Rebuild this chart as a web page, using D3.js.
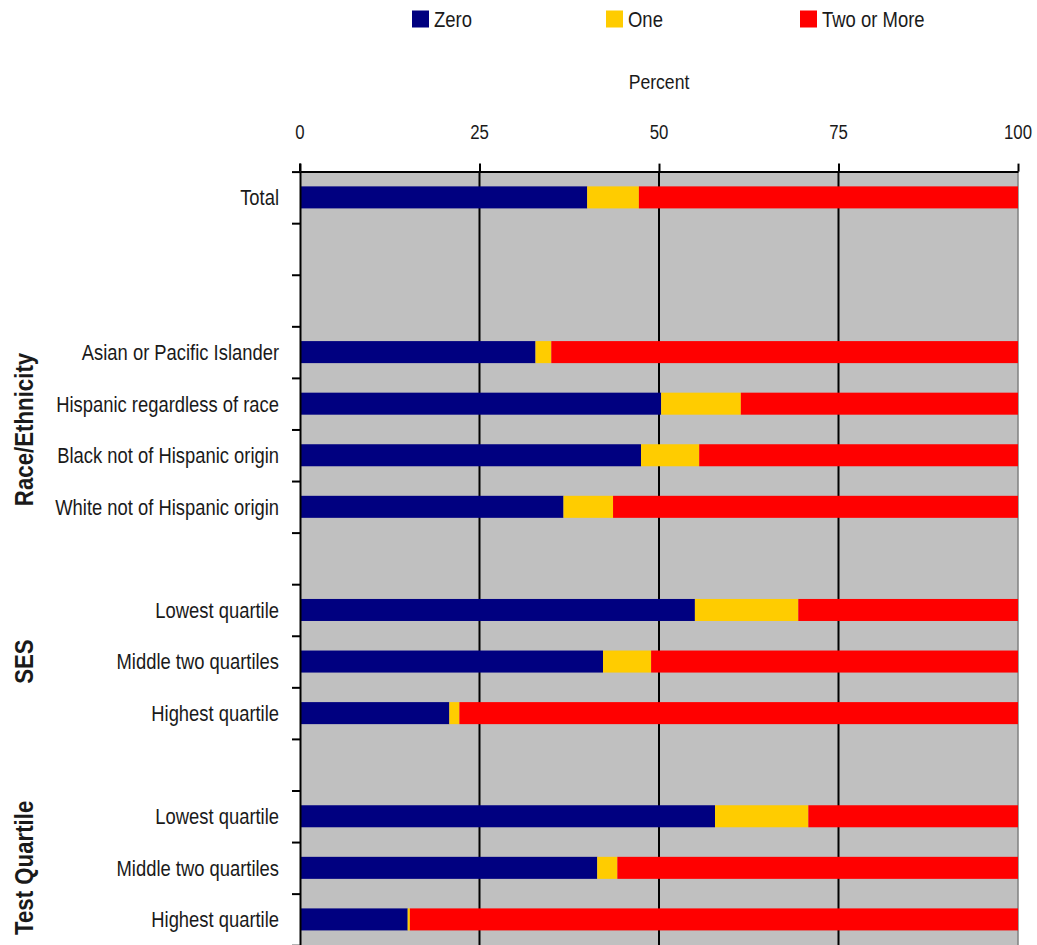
<!DOCTYPE html>
<html>
<head>
<meta charset="utf-8">
<script src="https://cdn.jsdelivr.net/npm/d3@7/dist/d3.min.js"></script>
<style>
  html, body { margin: 0; padding: 0; background: #fff; }
  svg { display: block; }
  text { font-family: "Liberation Sans", Arial, sans-serif; fill: #1a1a1a; }
</style>
</head>
<body>
<svg id="chart" width="1037" height="945"></svg>
<script>
// ---- data ----
const rowLabels = [
  "Total", "", "",
  "Asian or Pacific Islander", "Hispanic regardless of race",
  "Black not of Hispanic origin", "White not of Hispanic origin", "",
  "Lowest quartile", "Middle two quartiles", "Highest quartile", "",
  "Lowest quartile", "Middle two quartiles", "Highest quartile"
];
const zeroValues = [40.0, null, null, 32.8, 50.3, 47.5, 36.7, null, 55.0, 42.2, 20.8, null, 57.8, 41.4, 15.0];
const oneValues  = [7.2,  null, null, 2.2,  11.1, 8.1,  6.9,  null, 14.4, 6.7,  1.4,  null, 13.0, 2.8,  0.3];
const twoValues  = [52.8, null, null, 65.0, 38.6, 44.4, 56.4, null, 30.6, 51.1, 77.8, null, 29.2, 55.8, 84.7];
const seriesNames = ["Zero", "One", "Two or More"];
const seriesColors = ["#000080", "#FFCC00", "#FF0000"];
const groupNames = ["Race/Ethnicity", "SES", "Test Quartile"];
const groupFirstRow = [3, 8, 12];
const groupLastRow = [6, 10, 14];
const xTickValues = [0, 25, 50, 75, 100];
const axisTitle = "Percent";

// ---- build table ----
const rows = rowLabels.map((label, i) => ({
  idx: i, label,
  "Zero": zeroValues[i], "One": oneValues[i], "Two or More": twoValues[i]
}));
const dataRows = rows.filter(r => r["Zero"] != null);

const svg = d3.select("#chart");
const x = d3.scaleLinear().domain([0, 100]).range([300, 1018]);
const y = d3.scaleBand().domain(d3.range(rowLabels.length)).range([171.6, 945.2]).padding(0);
const yEdge = d3.scaleLinear().domain([0, rowLabels.length]).range(y.range());
const color = d3.scaleOrdinal().domain(seriesNames).range(seriesColors);
const plotTop = y.range()[0], plotBottom = y.range()[1];

// helper for condensed text
function ctext(g, str, px, py, opts) {
  const t = g.append("text")
    .attr("transform", `translate(${px},${py})${opts.rotate ? " rotate(" + opts.rotate + ")" : ""} scale(${opts.sx},1)`)
    .attr("text-anchor", opts.anchor || "start")
    .style("font-size", opts.size + "px")
    .style("font-weight", opts.bold ? "bold" : "normal")
    .text(str);
  if (opts.dy) t.attr("dy", opts.dy);
  return t;
}

// plot background
svg.append("rect")
  .attr("x", x(0)).attr("y", plotTop)
  .attr("width", x(100) - x(0)).attr("height", plotBottom - plotTop)
  .attr("fill", "#C0C0C0");

// gridlines
svg.append("g").selectAll("line")
  .data(xTickValues.filter(v => v > 0 && v < 100))
  .join("line")
  .attr("x1", d => x(d)).attr("x2", d => x(d))
  .attr("y1", plotTop).attr("y2", plotBottom)
  .attr("stroke", "#000").attr("stroke-width", 2);

// right border
svg.append("line")
  .attr("x1", x(100)).attr("x2", x(100))
  .attr("y1", plotTop).attr("y2", plotBottom)
  .attr("stroke", "#808080").attr("stroke-width", 1.5);

// bars
const stack = d3.stack().keys(seriesNames);
const stacked = stack(dataRows);
const barH = y.bandwidth() * 0.427;
svg.append("g").selectAll("g")
  .data(stacked)
  .join("g")
  .attr("fill", d => color(d.key))
  .selectAll("rect")
  .data(d => d)
  .join("rect")
  .attr("x", d => x(d[0]))
  .attr("width", d => Math.max(0, x(d[1]) - x(d[0])))
  .attr("y", d => y(d.data.idx) + (y.bandwidth() - barH) / 2)
  .attr("height", barH);

// top axis (lines)
const topAxis = svg.append("g")
  .attr("transform", `translate(0,${plotTop})`)
  .call(d3.axisTop(x).tickValues(xTickValues).tickSize(8).tickSizeOuter(0).tickFormat(""));
topAxis.select(".domain").attr("stroke", "#000").attr("stroke-width", 2);
topAxis.selectAll(".tick line").attr("stroke", "#000").attr("stroke-width", 2);
// top axis labels
const tickG = svg.append("g");
xTickValues.forEach(v => {
  ctext(tickG, String(v), x(v), 139, { sx: 0.8, size: 21, anchor: "middle" });
});

// left axis (ticks at band boundaries)
const leftAxis = svg.append("g")
  .attr("transform", `translate(${x(0)},0)`)
  .call(d3.axisLeft(yEdge).tickValues(d3.range(rowLabels.length + 1)).tickSize(8).tickSizeOuter(0).tickFormat(""));
leftAxis.select(".domain").attr("stroke", "#000").attr("stroke-width", 2);
leftAxis.selectAll(".tick line").attr("stroke", "#000").attr("stroke-width", 2);
svg.append("line")
  .attr("x1", x(0)).attr("x2", x(0))
  .attr("y1", plotTop - 8).attr("y2", plotTop)
  .attr("stroke", "#000").attr("stroke-width", 2);

// category labels
const labG = svg.append("g");
rows.filter(r => r.label !== "").forEach(r => {
  ctext(labG, r.label, 279, y(r.idx) + y.bandwidth() / 2, { sx: 0.836, size: 22, anchor: "end", dy: "0.36em" });
});

// group labels
const grpG = svg.append("g");
groupNames.forEach((name, i) => {
  const cy = (y(groupFirstRow[i]) + y(groupLastRow[i]) + y.bandwidth()) / 2;
  ctext(grpG, name, 33, cy, { sx: 0.84, size: 26.5, anchor: "middle", bold: true, rotate: -90 });
});

// axis title
ctext(svg, axisTitle, (x(0) + x(100)) / 2, 89, { sx: 0.84, size: 21, anchor: "middle" });

// legend
const legX = d3.scalePoint().domain(seriesNames).range([412, 800]);
const legG = svg.append("g");
seriesNames.forEach(name => {
  legG.append("rect")
    .attr("x", legX(name)).attr("y", 10.5)
    .attr("width", 17).attr("height", 17)
    .attr("fill", color(name));
  ctext(legG, name, legX(name) + 22, 27, { sx: 0.84, size: 22 });
});
</script>
</body>
</html>
